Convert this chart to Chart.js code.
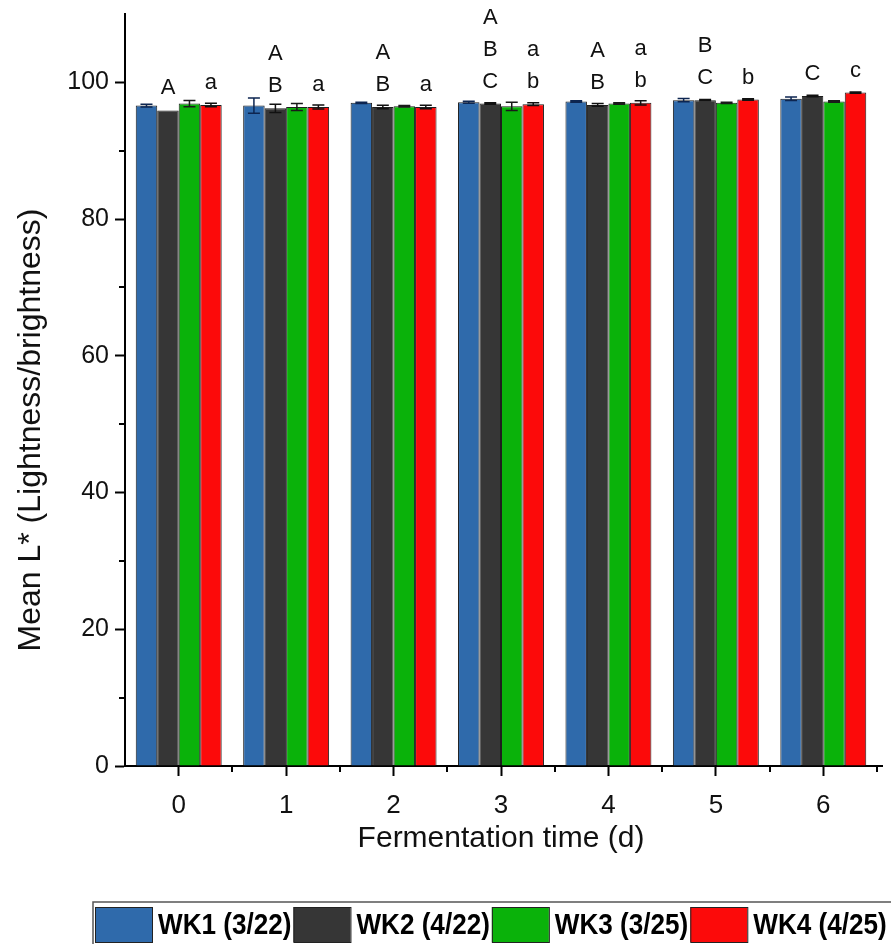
<!DOCTYPE html>
<html>
<head>
<meta charset="utf-8">
<script src="https://cdn.jsdelivr.net/npm/chart.js@4.4.0/dist/chart.umd.min.js"></script>
<style>
  html, body { margin: 0; padding: 0; background: #fff; }
  #wrap { width: 891px; height: 944px; }
</style>
</head>
<body>
<div id="wrap"><canvas id="lChart" width="891" height="944"></canvas></div>
<script>
// Data
const days = ['0', '1', '2', '3', '4', '5', '6'];
const seriesNames = ['WK1 (3/22)', 'WK2 (4/22)', 'WK3 (3/25)', 'WK4 (4/25)'];
const wk1 = [96.6, 96.6, 97.0, 97.1, 97.2, 97.4, 97.6];
const wk2 = [95.9, 96.2, 96.4, 96.9, 96.7, 97.4, 98.0];
const wk3 = [96.9, 96.4, 96.5, 96.5, 96.9, 97.0, 97.2];
const wk4 = [96.7, 96.4, 96.4, 96.8, 97.0, 97.5, 98.5];
const wk1Err = [0.2, 1.1, 0.1, 0.15, 0.1, 0.25, 0.25];
const wk2Err = [0.0, 0.6, 0.25, 0.1, 0.2, 0.1, 0.1];
const wk3Err = [0.45, 0.5, 0.1, 0.6, 0.1, 0.1, 0.1];
const wk4Err = [0.25, 0.3, 0.25, 0.2, 0.3, 0.1, 0.1];
const upperLetters = [['A'], ['A', 'B'], ['A', 'B'], ['A', 'B', 'C'], ['A', 'B'], ['B', 'C'], ['C']];
const lowerLetters = [['a'], ['a'], ['a'], ['a', 'b'], ['a', 'b'], ['b'], ['c']];

const FONT = '"Liberation Sans", Arial, sans-serif';
const barColors = ['#2f6aab', '#363636', '#0ab20a', '#fc0a0a'];
const errColors = ['#0d2550', '#111111', '#1a1a1a', '#111111'];
const errors = [wk1Err, wk2Err, wk3Err, wk4Err];

// minor ticks on both axes
const minorTicks = {
    id: 'minorTicks',
    afterDraw(chart) {
        const { ctx, scales: { x, y }, chartArea } = chart;
        ctx.save();
        ctx.strokeStyle = '#000';
        ctx.lineWidth = 2;
        [10, 30, 50, 70, 90].forEach(v => {
            const py = Math.round(y.getPixelForValue(v));
            ctx.beginPath();
            ctx.moveTo(chartArea.left, py);
            ctx.lineTo(chartArea.left - 6, py);
            ctx.stroke();
        });
        const step = (chartArea.right - chartArea.left) / days.length;
        for (let i = 1; i <= days.length; i++) {
            const px = Math.round(chartArea.left + i * step);
            ctx.beginPath();
            ctx.moveTo(px, chartArea.bottom);
            ctx.lineTo(px, chartArea.bottom + 6);
            ctx.stroke();
        }
        // axis runs a little past the last category
        ctx.beginPath();
        ctx.moveTo(chartArea.right, chartArea.bottom);
        ctx.lineTo(chartArea.right + 6, chartArea.bottom);
        ctx.stroke();
        ctx.restore();
    }
};

// error bars and significance letters
const barExtras = {
    id: 'barExtras',
    afterDatasetsDraw(chart) {
        const { ctx, scales: { y } } = chart;
        ctx.save();
        chart.data.datasets.forEach((ds, di) => {
            const meta = chart.getDatasetMeta(di);
            meta.data.forEach((bar, i) => {
                const err = errors[di][i];
                if (!err) return;
                const v = ds.data[i];
                const top = y.getPixelForValue(v + err);
                const bot = y.getPixelForValue(v - err);
                ctx.strokeStyle = errColors[di];
                ctx.lineWidth = 1.5;
                ctx.beginPath();
                ctx.moveTo(bar.x, top);
                ctx.lineTo(bar.x, bot);
                ctx.moveTo(bar.x - 6, top);
                ctx.lineTo(bar.x + 6, top);
                ctx.moveTo(bar.x - 6, bot);
                ctx.lineTo(bar.x + 6, bot);
                ctx.stroke();
            });
        });

        ctx.fillStyle = '#111';
        ctx.font = '22px ' + FONT;
        ctx.textAlign = 'center';
        ctx.textBaseline = 'middle';
        [[1, upperLetters], [3, lowerLetters]].forEach(([di, letters]) => {
            const meta = chart.getDatasetMeta(di);
            meta.data.forEach((bar, i) => {
                const stack = letters[i];
                stack.forEach((txt, k) => {
                    const py = bar.y - 22 - (stack.length - 1 - k) * 32;
                    ctx.fillText(txt, bar.x, py);
                });
            });
        });
        ctx.restore();
    }
};

// y title and bottom legend
const framing = {
    id: 'framing',
    afterDraw(chart) {
        const { ctx } = chart;
        ctx.save();
        ctx.fillStyle = '#111';
        ctx.font = '32px ' + FONT;
        ctx.textAlign = 'center';
        ctx.textBaseline = 'middle';
        ctx.translate(31, 430);
        ctx.rotate(-Math.PI / 2);
        ctx.fillText('Mean L* (Lightness/brightness)', 0, 0);
        ctx.restore();

        ctx.save();
        ctx.strokeStyle = '#555';
        ctx.lineWidth = 1.5;
        ctx.beginPath();
        ctx.moveTo(93, 944);
        ctx.lineTo(93, 902);
        ctx.lineTo(891, 902);
        ctx.stroke();

        let lx = 95;
        const squeeze = 0.87;
        ctx.font = 'bold 30px ' + FONT;
        ctx.textBaseline = 'middle';
        ctx.textAlign = 'left';
        seriesNames.forEach((name, i) => {
            ctx.fillStyle = barColors[i];
            ctx.fillRect(lx, 907, 57, 35);
            ctx.strokeStyle = '#222';
            ctx.lineWidth = 1;
            ctx.strokeRect(lx + 0.5, 907.5, 57, 35);
            const tw = ctx.measureText(name).width * squeeze;
            ctx.save();
            ctx.translate(lx + 63, 926);
            ctx.scale(squeeze, 1);
            ctx.fillStyle = '#000';
            ctx.fillText(name, 0, 0);
            ctx.restore();
            lx += 57 + 6 + tw + 2;
        });
        ctx.restore();
    }
};

const seriesData = [wk1, wk2, wk3, wk4];

new Chart(document.getElementById('lChart'), {
    type: 'bar',
    data: {
        labels: days,
        datasets: seriesData.map((d, i) => ({
            label: seriesNames[i],
            data: d,
            backgroundColor: barColors[i],
            borderColor: '#1e1e1e',
            borderWidth: 1,
            categoryPercentage: 0.8,
            barPercentage: 1.0
        }))
    },
    options: {
        responsive: false,
        animation: false,
        layout: {
            padding: { top: 14, right: 14, bottom: 81, left: 0 }
        },
        plugins: {
            legend: { display: false },
            tooltip: { enabled: false }
        },
        scales: {
            x: {
                offset: true,
                grid: {
                    offset: false,
                    drawOnChartArea: false,
                    tickLength: 10,
                    tickColor: '#000',
                    tickWidth: 2
                },
                border: { color: '#000', width: 2 },
                ticks: {
                    color: '#111',
                    padding: 14,
                    font: { family: FONT, size: 26 }
                },
                title: {
                    display: true,
                    text: 'Fermentation time (d)',
                    color: '#111',
                    font: { family: FONT, size: 30 },
                    padding: { top: 4, bottom: 6 }
                },
                afterFit(scale) {
                    scale.height = 97;
                    scale.paddingLeft = 0;
                    scale.paddingRight = 0;
                }
            },
            y: {
                min: 0,
                max: 110,
                grid: {
                    drawOnChartArea: false,
                    tickLength: 10,
                    tickColor: '#000',
                    tickWidth: 2
                },
                border: { color: '#000', width: 2 },
                ticks: {
                    stepSize: 20,
                    includeBounds: false,
                    color: '#111',
                    padding: 6,
                    font: { family: FONT, size: 25 }
                },
                afterFit(scale) {
                    scale.width = 125;
                    scale.paddingTop = 0;
                    scale.paddingBottom = 0;
                }
            }
        }
    },
    plugins: [minorTicks, barExtras, framing]
});
</script>
</body>
</html>
